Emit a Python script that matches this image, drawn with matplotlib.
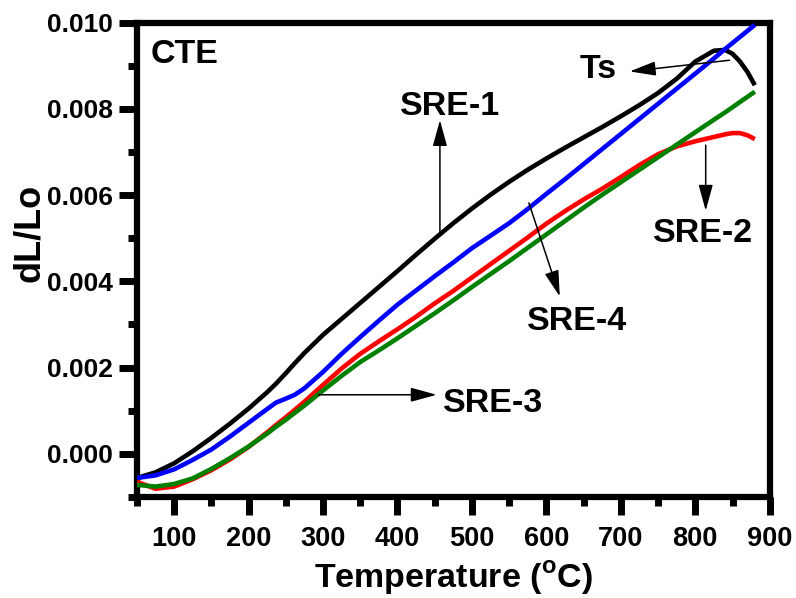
import matplotlib
matplotlib.use("Agg")
import matplotlib.pyplot as plt
from matplotlib.ticker import MultipleLocator, FormatStrFormatter

plt.rcParams['font.family'] = ['Liberation Sans', 'DejaVu Sans']
plt.rcParams['font.weight'] = 'bold'
plt.rcParams['mathtext.fontset'] = 'custom'
plt.rcParams['mathtext.rm'] = 'Liberation Sans:bold'
plt.rcParams['mathtext.bf'] = 'Liberation Sans:bold'

# ---- data ----
temperature = [50, 75, 100, 125, 150, 175, 200, 225, 237, 250, 262, 275, 300,
               325, 350, 375, 400, 425, 450, 475, 500, 525, 550, 575, 600,
               625, 650, 675, 700, 725, 750, 775, 800, 825, 840, 850, 860,
               870, 880]

sre1 = [-0.00056, -0.00043, -0.00022, 0.00006, 0.00037, 0.00070, 0.00105,
        0.00143, 0.00163, 0.00187, 0.00210, 0.00234, 0.00276, 0.00313,
        0.00350, 0.00387, 0.00424, 0.00462, 0.00499, 0.00535, 0.00569,
        0.00601, 0.00631, 0.00659, 0.00685, 0.00710, 0.00734, 0.00758,
        0.00783, 0.00809, 0.00837, 0.00870, 0.00910, 0.00935, 0.00937,
        0.00928, 0.00910, 0.00886, 0.00855]
sre4 = [-0.00056, -0.00050, -0.00036, -0.00014, 0.00010, 0.00040, 0.00072,
        0.00104, 0.00119, 0.00128, 0.00137, 0.00152, 0.00190, 0.00232,
        0.00271, 0.00309, 0.00346, 0.00379, 0.00412, 0.00444, 0.00477,
        0.00506, 0.00535, 0.00568, 0.00603, 0.00637, 0.00672, 0.00707,
        0.00742, 0.00777, 0.00812, 0.00847, 0.00882, 0.00917, 0.00939,
        0.00953, 0.00967, 0.00981, 0.00995]
sre2 = [-0.00065, -0.00081, -0.00076, -0.00059, -0.00038, -0.00013, 0.00016,
        0.00050, 0.00067, 0.00085, 0.00102, 0.00121, 0.00160, 0.00198,
        0.00232, 0.00261, 0.00289, 0.00318, 0.00349, 0.00378, 0.00409,
        0.00440, 0.00471, 0.00502, 0.00534, 0.00563, 0.00590, 0.00615,
        0.00642, 0.00670, 0.00695, 0.00713, 0.00725, 0.00735, 0.00741,
        0.00744, 0.00744, 0.00739, 0.00730]
sre3 = [-0.00072, -0.00076, -0.00070, -0.00057, -0.00035, -0.00010, 0.00017,
        0.00047, 0.00063, 0.00079, 0.00095, 0.00112, 0.00147, 0.00181,
        0.00213, 0.00240, 0.00268, 0.00297, 0.00326, 0.00356, 0.00387,
        0.00417, 0.00447, 0.00478, 0.00509, 0.00540, 0.00571, 0.00601,
        0.00630, 0.00659, 0.00688, 0.00717, 0.00746, 0.00775, 0.00792,
        0.00804, 0.00816, 0.00828, 0.00840]

series_names = ['SRE-1', 'SRE-4', 'SRE-2', 'SRE-3']
series_values = [sre1, sre4, sre2, sre3]
series_colors = ['#000000', '#0000ff', '#ff0000', '#008000']

# labels: text, text anchor (left, baseline), arrow start, arrow tip
label_texts = ['CTE', 'SRE-1', 'Ts', 'SRE-2', 'SRE-4', 'SRE-3']
label_pos = [(67.8, 0.00907), (403.4, 0.00786), (645, 0.00872),
             (743, 0.00492), (573.5, 0.00288), (461.5, 0.00098)]
arrow_start = [None, (457, 0.00510), (846, 0.00913), (814, 0.00716),
               (576.5, 0.00582), (293.7, 0.00137)]
arrow_tip = [None, (457, 0.00774), (712, 0.00887), (814, 0.00564),
             (618, 0.00365), (452.6, 0.00137)]

x_ticks = [100, 200, 300, 400, 500, 600, 700, 800, 900]
y_ticks = [0.000, 0.002, 0.004, 0.006, 0.008, 0.010]

fig = plt.figure(figsize=(7.96, 5.98), dpi=100)
ax = fig.add_axes([0.172, 0.169, 0.795, 0.793])

for name, vals, col in zip(series_names, series_values, series_colors):
    ax.plot(temperature, vals, color=col, lw=3.3, solid_capstyle='butt',
            solid_joinstyle='round', clip_on=True, zorder=3)

for txt, pos, a0, a1 in zip(label_texts, label_pos, arrow_start, arrow_tip):
    ax.text(pos[0], pos[1], txt, ha='left', va='baseline', fontsize=24.5,
            fontweight='bold', color='black', zorder=5)
    if a0 is not None:
        ax.annotate('', xy=a1, xytext=a0,
                    arrowprops=dict(arrowstyle='-|>,head_length=0.8,head_width=0.22',
                                    color='black', lw=1.1, shrinkA=0, shrinkB=0,
                                    mutation_scale=20), zorder=4)

ax.set_xlim(50, 900)
ax.set_ylim(-0.001, 0.010)
ax.set_xticks(x_ticks)
ax.set_yticks(y_ticks)
ax.xaxis.set_minor_locator(MultipleLocator(50))
ax.yaxis.set_minor_locator(MultipleLocator(0.001))
ax.yaxis.set_major_formatter(FormatStrFormatter('%.3f'))

ax.tick_params(which='both', direction='out', top=False, right=False, width=5)
ax.tick_params(which='major', length=13)
ax.tick_params(which='minor', length=6.5)
ax.tick_params(axis='x', which='major', labelsize=19.5, pad=8)
ax.tick_params(axis='y', which='major', labelsize=19, pad=4)
for lab in ax.get_xticklabels() + ax.get_yticklabels():
    lab.set_fontweight('bold')

for sp in ax.spines.values():
    sp.set_linewidth(4.5)
    sp.set_capstyle('projecting')

ax.set_xlabel(r'Temperature ($^{\mathregular{o}}$C)', fontsize=24.5, fontweight='bold')
ax.xaxis.label.set_verticalalignment('baseline')
ax.set_ylabel('dL/Lo', fontsize=26, fontweight='bold')
ax.xaxis.set_label_coords(0.5, -0.1916)
ax.yaxis.set_label_coords(-0.142, 0.556)

fig.savefig('out.png', dpi=100)
